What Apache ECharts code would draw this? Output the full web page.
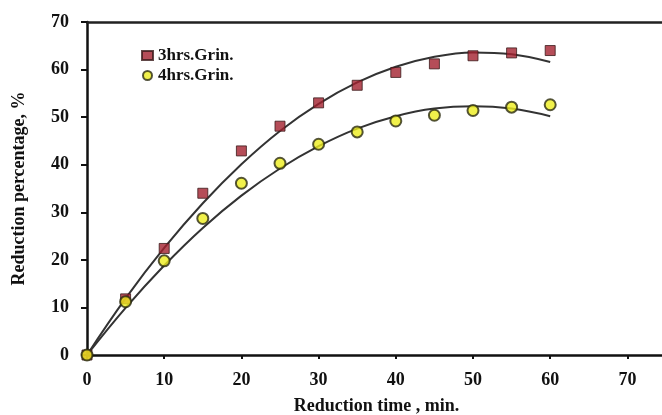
<!DOCTYPE html>
<html>
<head>
<meta charset="utf-8">
<script src="https://cdn.jsdelivr.net/npm/echarts@6/dist/echarts.min.js"></script>
<style>
  html, body { margin: 0; padding: 0; background: #fff; }
  #chart { width: 662px; height: 415px; }
</style>
</head>
<body>
<div id="chart"></div>
<script>
// reduction time, min
const times = [0, 5, 10, 15, 20, 25, 30, 35, 40, 45, 50, 55, 60]
// measured points
const grin3 = [0, 11.8, 22.4, 34.0, 42.9, 48.1, 53.0, 56.7, 59.4, 61.2, 62.9, 63.5, 64.0]
const grin4 = [0, 11.2, 19.8, 28.7, 36.1, 40.3, 44.3, 46.9, 49.2, 50.4, 51.4, 52.1, 52.6]
// fitted trend curves
const fit3 = [0, 11.9, 22.5, 31.9, 40.1, 47.1, 52.8, 57.3, 60.6, 62.7, 63.6, 63.2, 61.6]
const fit4 = [0, 9.9, 18.8, 26.7, 33.5, 39.2, 43.9, 47.6, 50.2, 51.8, 52.3, 51.8, 50.2]
const xTicks = [0, 10, 20, 30, 40, 50, 60, 70]

const pair = (xs, ys) => xs.map((x, i) => [x, ys[i]])
const serif = '"Liberation Serif", "DejaVu Serif", serif'

const chart = echarts.init(document.getElementById('chart'), null, { renderer: 'canvas' })

chart.setOption({
  backgroundColor: '#fff',
  animation: false,
  grid: { left: 87, top: 22, right: -4, bottom: 60, outerBoundsMode: 'none', containLabel: false },
  legend: {
    data: ['3hrs.Grin.', '4hrs.Grin.'],
    orient: 'vertical',
    left: 136,
    top: 42,
    itemWidth: 11,
    itemHeight: 9,
    itemGap: 3,
    textStyle: { fontFamily: serif, fontWeight: 'bold', fontSize: 17, color: '#111' }
  },
  xAxis: [
    {
      type: 'value',
      min: 0,
      max: 75,
      interval: 10,
      name: 'Reduction time , min.',
      nameLocation: 'middle',
      nameGap: 42,
      nameTextStyle: { fontFamily: serif, fontWeight: 'bold', fontSize: 18, color: '#111' },
      axisLine: { show: true, lineStyle: { color: '#111', width: 2.5 } },
      axisTick: { show: true, length: 4, lineStyle: { color: '#111', width: 2 } },
      splitLine: { show: false },
      axisLabel: {
        margin: 16,
        fontFamily: serif, fontWeight: 'bold', fontSize: 18, color: '#111',
        formatter: v => xTicks.includes(v) ? String(v) : ''
      }
    },
    {
      type: 'value',
      position: 'top',
      min: 0,
      max: 75,
      axisLine: { show: true, lineStyle: { color: '#222', width: 2.5 } },
      axisTick: { show: false },
      axisLabel: { show: false },
      splitLine: { show: false }
    }
  ],
  yAxis: {
    type: 'value',
    min: 0,
    max: 70,
    interval: 10,
    name: 'Reduction percentage, %',
    nameLocation: 'middle',
    nameGap: 59,
    nameTextStyle: { fontFamily: serif, fontWeight: 'bold', fontSize: 18, color: '#111' },
    axisLine: { show: true, lineStyle: { color: '#111', width: 2.5 } },
    axisTick: { show: true, inside: false, length: 6, lineStyle: { color: '#111', width: 2 } },
    splitLine: { show: false },
    axisLabel: { margin: 18, fontFamily: serif, fontWeight: 'bold', fontSize: 18, color: '#111' }
  },
  series: [
    {
      name: 'fit3',
      type: 'line',
      data: pair(times, fit3),
      smooth: 0.4,
      showSymbol: false,
      lineStyle: { color: '#333', width: 2 },
      z: 2
    },
    {
      name: 'fit4',
      type: 'line',
      data: pair(times, fit4),
      smooth: 0.4,
      showSymbol: false,
      lineStyle: { color: '#333', width: 2 },
      z: 2
    },
    {
      name: '3hrs.Grin.',
      type: 'scatter',
      data: pair(times, grin3),
      symbol: 'rect',
      symbolSize: 10,
      itemStyle: { color: '#a3202e', borderColor: '#3a1a1a', borderWidth: 1 },
      z: 3
    },
    {
      name: '4hrs.Grin.',
      type: 'scatter',
      data: pair(times, grin4),
      symbol: 'circle',
      symbolSize: 11,
      itemStyle: { color: '#eded1e', borderColor: '#2a2a10', borderWidth: 2 },
      z: 3
    }
  ]
})
</script>
</body>
</html>
